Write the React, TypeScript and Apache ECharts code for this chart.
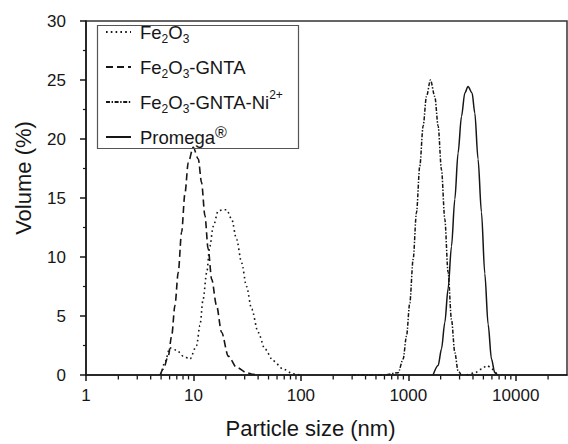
import React, { useEffect, useRef } from 'react';
import * as echarts from 'echarts';

// Particle size (nm) / Volume (%) pairs
const fe2o3: (number | string)[][] = [
  [5.0, 0], [5.43, 1.1], [6.04, 2.3], [6.98, 2.1], [8.04, 1.6], [9.27, 1.35],
  [10.7, 2.5], [11.5, 4.2], [12.3, 6.4], [13.3, 8.7], [14.2, 10.9], [15.3, 12.6],
  [17.0, 13.9], [18.6, 14.0], [20.4, 14.0], [22.7, 13.2], [25.2, 11.5], [28.1, 9.5],
  [31.2, 7.5], [34.8, 5.6], [40.1, 3.6], [46.3, 2.2], [55.3, 1.2], [68.4, 0.5],
  [84.8, 0.1], [100, 0], [200, '-'],
  [3500, 0], [4200, 0.2], [4800, 0.5], [5400, 0.8], [5900, 0.6], [6500, 0.2], [7000, 0],
];

const fe2o3Gnta: number[][] = [
  [4.9, 0], [5.24, 0.5], [5.83, 1.6], [6.27, 3.3], [6.73, 5.9], [7.22, 8.7],
  [7.76, 12.1], [8.34, 15.4], [8.95, 18.0], [9.96, 19.3], [11.1, 18.3], [11.9, 16.3],
  [12.8, 13.5], [13.7, 10.7], [14.8, 8.1], [16.4, 5.9], [18.3, 3.6], [21.1, 1.6],
  [25.2, 0.65], [31.2, 0.2], [36, 0.05], [42, 0],
];

const fe2o3GntaNi: number[][] = [
  [300, 0], [600, 0], [804, 0.2], [895, 1.35], [962, 3.3], [1032, 6.1], [1109, 9.8],
  [1191, 13.75], [1279, 17.7], [1374, 21.1], [1476, 23.6], [1608, 25.0], [1765, 23.6],
  [1895, 21.1], [2036, 17.4], [2187, 13.2], [2345, 8.7], [2523, 4.7], [2710, 1.9],
  [2904, 0.35], [3100, 0],
];

const promega: number[][] = [
  [1700, 0], [1895, 0.8], [2036, 2.2], [2187, 4.45], [2345, 7.3], [2523, 10.9],
  [2710, 14.9], [2904, 18.8], [3126, 21.9], [3357, 23.9], [3598, 24.45], [3924, 23.9],
  [4158, 22.2], [4458, 18.3], [4795, 13.8], [5152, 8.6], [5532, 4.3], [5945, 1.35],
  [6378, 0.2], [6800, 0],
];

const seriesNames = ['Fe2O3', 'Fe2O3-GNTA', 'Fe2O3-GNTA-Ni2+', 'Promega®'];

const legendLabels: Record<string, string> = {
  'Fe2O3': '{n|Fe}{sub|2}{n|O}{sub|3}',
  'Fe2O3-GNTA': '{n|Fe}{sub|2}{n|O}{sub|3}{n|-GNTA}',
  'Fe2O3-GNTA-Ni2+': '{n|Fe}{sub|2}{n|O}{sub|3}{n|-GNTA-Ni}{sup|2+}',
  'Promega®': '{n|Promega}{reg|®}',
};

// minor tick positions of the logarithmic x axis
const xMinorTicks = [
  2, 3, 4, 5, 6, 7, 8, 9,
  20, 30, 40, 50, 60, 70, 80, 90,
  200, 300, 400, 500, 600, 700, 800, 900,
  2000, 3000, 4000, 5000, 6000, 7000, 8000, 9000,
  20000,
];

const FONT = "'Liberation Sans', Arial, Helvetica, sans-serif";
const INK = '#161616';

export default function App() {
  const ref = useRef<HTMLDivElement>(null);

  useEffect(() => {
    const chart = echarts.init(ref.current!, null, { renderer: 'svg' });
    const lineBase = { type: 'line', showSymbol: false, symbol: 'none', smooth: 0.3, smoothMonotone: 'x', z: 3 };
    chart.setOption({
      animation: false,
      backgroundColor: '#fff',
      grid: { left: 86, right: 1, top: 21, bottom: 68, show: true, borderColor: '#333', borderWidth: 1.5, backgroundColor: 'transparent' },
      graphic: [
        {
          type: 'rect',
          left: 95,
          top: 23,
          shape: { width: 201, height: 123 },
          style: { fill: 'none', stroke: '#555', lineWidth: 1.2 },
          z: 20,
          silent: true,
        },
      ],
      legend: {
        data: seriesNames,
        orient: 'vertical',
        left: 95,
        top: 19,
        itemWidth: 25,
        itemHeight: 14,
        itemGap: 9,
        padding: [0, 14, 0, 10],
        selectedMode: false,
        itemStyle: { opacity: 0 },
        formatter: (name: string) => legendLabels[name] || name,
        textStyle: {
          padding: [0, 0, 0, 4],
          rich: {
            n: { fontSize: 18.5, lineHeight: 20, fontFamily: FONT, color: INK },
            sub: { fontSize: 12, lineHeight: 20, fontFamily: FONT, color: INK, padding: [14, 0, 0, 0] },
            sup: { fontSize: 12, lineHeight: 20, fontFamily: FONT, color: INK, padding: [0, 0, 14, 0] },
            reg: { fontSize: 16, lineHeight: 20, fontFamily: FONT, color: INK, padding: [0, 0, 10, 0] },
          },
        },
      },
      xAxis: {
        type: 'log',
        logBase: 10,
        min: 1,
        max: 30000,
        name: 'Particle size (nm)',
        nameLocation: 'middle',
        nameGap: 42,
        nameTextStyle: { fontSize: 22, fontFamily: FONT, color: INK, padding: [0, 32, 0, 0] },
        axisLine: { show: true, onZero: false, lineStyle: { color: INK, width: 1.5 } },
        axisTick: { show: true, inside: false, length: 6, lineStyle: { color: INK, width: 1.5 } },
        axisLabel: { fontSize: 17, fontFamily: FONT, color: INK, margin: 12, showMaxLabel: false, formatter: (v: number) => String(v) },
        splitLine: { show: false },
        minorTick: { show: false },
      },
      yAxis: {
        type: 'value',
        min: 0,
        max: 30,
        interval: 5,
        name: 'Volume (%)',
        nameLocation: 'middle',
        nameGap: 52,
        nameTextStyle: { fontSize: 22, fontFamily: FONT, color: INK, padding: [0, 0, 0, 40] },
        axisLine: { show: true, lineStyle: { color: INK, width: 1.5 } },
        axisTick: { show: true, inside: false, length: 6, lineStyle: { color: INK, width: 1.5 } },
        minorTick: { show: true, splitNumber: 2, length: 3, lineStyle: { color: INK, width: 1.2 } },
        axisLabel: { fontSize: 17, fontFamily: FONT, color: INK, margin: 20 },
        splitLine: { show: false },
      },
      series: [
        { ...lineBase, name: seriesNames[0], data: fe2o3, lineStyle: { color: INK, width: 1.6, type: [1.6, 3.2] }, itemStyle: { color: INK } },
        { ...lineBase, name: seriesNames[1], data: fe2o3Gnta, lineStyle: { color: INK, width: 1.6, type: [7, 4] }, itemStyle: { color: INK } },
        { ...lineBase, name: seriesNames[2], data: fe2o3GntaNi, lineStyle: { color: INK, width: 1.5, type: [4, 1.6, 1.4, 1.6] }, itemStyle: { color: INK } },
        { ...lineBase, name: seriesNames[3], data: promega, lineStyle: { color: INK, width: 1.5, type: 'solid' }, itemStyle: { color: INK } },
        {
          type: 'scatter',
          name: 'minorTicks',
          clip: false,
          silent: true,
          z: 10,
          symbol: 'rect',
          symbolSize: [1.3, 4],
          symbolOffset: [0, 2.5],
          itemStyle: { color: INK, opacity: 1 },
          data: xMinorTicks.map((v) => [v, 0]),
        },
      ],
    });
    return () => chart.dispose();
  }, []);

  return (
    <div
      ref={ref}
      style={{ position: 'fixed', left: 0, top: 0, width: 568, height: 444, background: '#fff' }}
    />
  );
}
